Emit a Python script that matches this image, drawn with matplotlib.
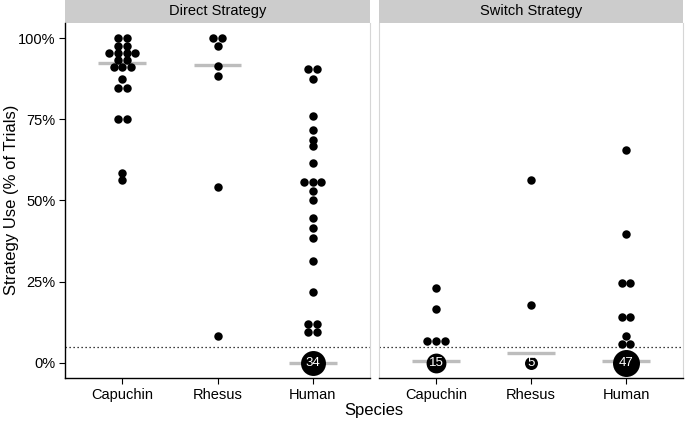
import matplotlib
matplotlib.use("Agg")
import matplotlib.pyplot as plt
from matplotlib.patches import Rectangle
from collections import Counter
import numpy as np

plt.rcParams["font.family"] = ["Liberation Sans", "DejaVu Sans"]

SPECIES = ["Capuchin", "Rhesus", "Human"]
PANELS = ["Direct Strategy", "Switch Strategy"]

direct_capuchin = [100, 100, 97.6, 97.6, 95.4, 95.4, 95.4, 95.4, 93.3, 93.3,
                   91.2, 91.2, 91.2, 87.5, 84.8, 84.8, 75, 75, 58.4, 56.3]
direct_rhesus = [100, 100, 97.7, 91.6, 88.5, 54.3, 8.3]
direct_human = [90.5, 90.5, 87.5, 76, 71.8, 68.7, 66.7, 61.5, 55.6, 55.6, 55.6,
                53, 50, 44.7, 41.6, 38.5, 31.3, 21.9, 11.9, 11.9, 9.4, 9.4]
switch_capuchin = [22.9, 16.7, 6.7, 6.7, 6.7]
switch_rhesus = [56.2, 17.7]
switch_human = [65.6, 39.6, 24.5, 24.5, 14.1, 14.1, 8.3, 5.8, 5.8]

direct_zero_n = [0, 0, 34]
switch_zero_n = [15, 5, 47]
direct_median = [92.3, 91.7, 0]
switch_median = [0.5, 3.1, 0.5]
chance = 5

panels = [
    ([direct_capuchin, direct_rhesus, direct_human], direct_zero_n, direct_median),
    ([switch_capuchin, switch_rhesus, switch_human], switch_zero_n, switch_median),
]

W, H = 685, 421
fig = plt.figure(figsize=(W / 100, H / 100), dpi=100)
axes_px = [(65, 370), (379, 683)]
top_px, bot_px, strip_px = 23, 378, 23
dx = 0.091

for p, ((series, zeros, meds), (x0, x1)) in enumerate(zip(panels, axes_px)):
    ax = fig.add_axes([x0 / W, (H - bot_px) / H, (x1 - x0) / W, (bot_px - top_px) / H])
    ax.set_xlim(0.4, 3.6)
    ax.set_ylim(-4.7, 104.7)
    ax.axhline(chance, color="black", lw=0.9, ls=(0, (1, 2.2)), zorder=1)
    for i, vals in enumerate(series):
        xc = i + 1
        ax.plot([xc - 0.25, xc + 0.25], [meds[i], meds[i]], color="#BDBDBD",
                lw=2.4, solid_capstyle="butt", zorder=2)
        xs, ys = [], []
        for v, k in Counter(vals).items():
            for j in range(k):
                xs.append(xc + (j - (k - 1) / 2) * dx)
                ys.append(v)
        ax.scatter(xs, ys, s=37, color="black", linewidths=0, zorder=3)
        if zeros[i] > 0:
            d = 2.9 + 6.25 * np.log(zeros[i])  # bubble diameter in px
            ax.scatter([xc], [0], s=(d * 0.72) ** 2, color="black", linewidths=0, zorder=4)
            ax.text(xc, 0, str(zeros[i]), color="white", fontsize=9.5,
                    ha="center", va="center", zorder=5)
    ax.set_xticks([1, 2, 3])
    ax.set_xticklabels(SPECIES, fontsize=10.5)
    ax.tick_params(axis="x", length=4, width=0.8, color="black", pad=3)
    ax.spines["top"].set_visible(False)
    ax.spines["right"].set_color("#D6D6D6")
    ax.spines["bottom"].set_linewidth(1.0)
    if p == 0:
        ax.set_yticks([0, 25, 50, 75, 100])
        ax.set_yticklabels(["0%", "25%", "50%", "75%", "100%"], fontsize=10.5)
        ax.tick_params(axis="y", length=4, width=0.8, color="black", pad=3)
        ax.spines["left"].set_linewidth(1.0)
    else:
        ax.set_yticks([])
        ax.spines["left"].set_color("#D6D6D6")
    sh = strip_px / (bot_px - top_px)
    ax.add_patch(Rectangle((0, 1), 1, sh, transform=ax.transAxes, clip_on=False,
                           facecolor="#CCCCCC", edgecolor="none"))
    ax.text(0.5, 1 + sh / 2, PANELS[p], transform=ax.transAxes, ha="center",
            va="center", fontsize=10.5)

fig.text(12 / W, 1 - 200 / H, "Strategy Use (% of Trials)", rotation=90,
         ha="center", va="center", fontsize=12)
fig.text((65 + 683) / 2 / W, 1 - 411 / H, "Species", ha="center", va="center", fontsize=12)
fig.savefig("out.png", dpi=100)
